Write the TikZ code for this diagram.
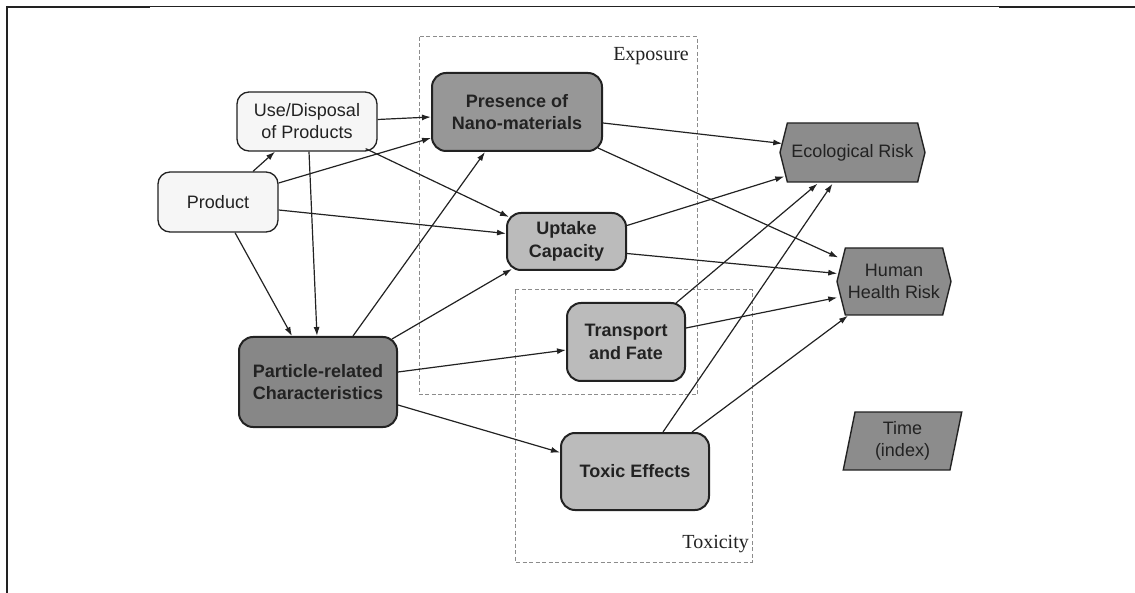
\documentclass[tikz,border=0pt]{standalone}
\usepackage{fontspec}
\setmainfont{Liberation Serif}
\setsansfont{Liberation Sans}
\usetikzlibrary{arrows.meta,calc,shapes.symbols,shapes.geometric}

\definecolor{ink}{HTML}{222222}
\definecolor{paleFill}{HTML}{F6F6F6}
\definecolor{midFill}{HTML}{979797}
\definecolor{darkFill}{HTML}{878787}
\definecolor{lightFill}{HTML}{BBBBBB}
\definecolor{riskFill}{HTML}{8C8C8C}
\definecolor{zoneGray}{HTML}{8C8C8C}

\begin{document}
\begin{tikzpicture}[x=1pt,y=-1pt,
  lab/.style={font=\sffamily\fontsize{18}{22}\selectfont, text=ink, align=center, inner sep=0pt},
  pale/.style={lab, draw=ink, line width=1.3pt, fill=paleFill, rounded corners=12pt},
  boxed/.style={lab, font=\sffamily\bfseries\fontsize{18}{22.5}\selectfont, draw=ink, line width=2pt, rounded corners=14pt},
  risk/.style={lab, shape=signal, signal to=west and east, signal pointer angle=152, draw=ink, line width=1.4pt, fill=riskFill},
  link/.style={draw=ink, line width=1.2pt, -{Latex[length=9pt,width=6pt]}},
  zone/.style={draw=zoneGray, line width=1pt, dash pattern=on 4pt off 2.5pt},
  zonelabel/.style={font=\rmfamily\fontsize{20}{22}\selectfont, text=ink, inner sep=0pt}
]
\useasboundingbox (0,0) rectangle (1135,593);

% page frame
\draw[ink, line width=2.5pt] (6,7) -- (150,7);
\draw[ink, line width=1pt] (150,7) -- (1000,7);
\draw[ink, line width=2.5pt] (999,7) -- (1135,7);
\draw[ink, line width=2.5pt] (7,6) -- (7,593);

% dashed groupings
\draw[zone] (419,37) rectangle (697,395);
\draw[zone] (515,290) rectangle (752,562);
\node[zonelabel, anchor=east] (explab) at (689,56) {Exposure};
\node[zonelabel, anchor=east] (toxlab) at (749,544) {Toxicity};

% nodes
\node[pale, minimum width=140pt, minimum height=59pt] (use) at (307,121.5) {Use/Disposal\\of Products};
\node[pale, minimum width=120pt, minimum height=60pt] (prod) at (218,202) {Product};
\node[boxed, fill=midFill, minimum width=170pt, minimum height=78pt] (pres) at (517,112) {Presence of\\Nano-materials};
\node[boxed, fill=lightFill, minimum width=119pt, minimum height=57pt] (upt) at (566.5,241.5) {Uptake\\Capacity};
\node[boxed, fill=darkFill, minimum width=158pt, minimum height=90pt] (part) at (318,382) {Particle-related\\Characteristics};
\node[boxed, fill=lightFill, minimum width=118pt, minimum height=78pt] (trans) at (626,342) {Transport\\and Fate};
\node[boxed, fill=lightFill, minimum width=148pt, minimum height=77pt] (tox) at (635,471.5) {Toxic Effects};
\node[risk, minimum width=145pt, minimum height=59pt] (eco) at (852.5,152.5) {Ecological Risk};
\node[risk, minimum width=114pt, minimum height=67pt] (hh) at (894,281.5) {Human\\Health Risk};
\node[lab, shape=trapezium, trapezium left angle=80, trapezium right angle=100, trapezium stretches=true,
      draw=ink, line width=1.4pt, fill=riskFill, minimum width=119pt, minimum height=58pt] (time) at (902.5,441) {Time\\(index)};

% influences
\draw[link] ($(prod.north)+(35,0)$) -- ($(use.south)+(-32,0)$);
\draw[link] ($(use.east)+(0,-2)$) -- ($(pres.west)+(0,5)$);
\draw[link] ($(prod.east)+(0,-19)$) -- ($(pres.west)+(0,26)$);
\draw[link] ($(use.south east)+(-12,-3)$) -- ($(upt.north west)+(3,5)$);
\draw[link] ($(prod.east)+(0,8)$) -- ($(upt.west)+(0,-8)$);
\draw[link] ($(prod.south)+(17,0)$) -- ($(part.north)+(-26,0)$);
\draw[link] ($(use.south)+(2,0)$) -- ($(part.north)+(-1,0)$);
\draw[link] ($(part.north)+(35,0)$) -- ($(pres.south)+(-32,0)$);
\draw[link] ($(part.north east)+(-6,3)$) -- ($(upt.south west)+(6,-2)$);
\draw[link] ($(part.east)+(0,-10)$) -- ($(trans.west)+(0,8)$);
\draw[link] ($(part.east)+(0,23)$) -- ($(tox.west)+(0,-19)$);
\draw[link] ($(pres.east)+(0,11)$) -- ($(eco.west)+(3,-9)$);
\draw[link] ($(pres.south east)+(-5,-4)$) -- ($(hh.west)+(2,-24)$);
\draw[link] ($(upt.east)+(0,-16)$) -- ($(eco.west)+(5,24)$);
\draw[link] ($(upt.east)+(0,12)$) -- ($(hh.west)+(1,-8)$);
\draw[link] ($(trans.north east)+(-10,1)$) -- ($(eco.south)+(-35,1)$);
\draw[link] ($(trans.east)+(0,-14)$) -- ($(hh.west)+(1,16)$);
\draw[link] ($(tox.north)+(28,0)$) -- ($(eco.south)+(-20,1)$);
\draw[link] ($(tox.north)+(57,0)$) -- ($(hh.south)+(-46,0)$);
\end{tikzpicture}
\end{document}
